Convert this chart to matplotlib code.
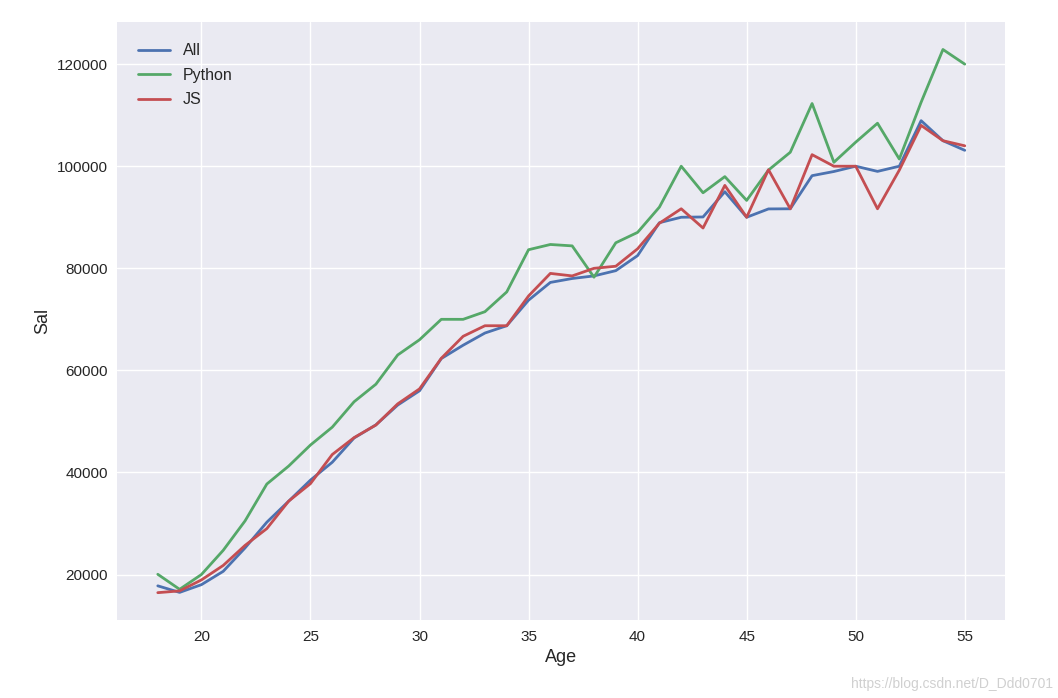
import matplotlib
matplotlib.use("Agg")
import matplotlib.pyplot as plt

plt.style.use("seaborn-v0_8")

ages_x = list(range(18, 56))
all_devs = [17784, 16500, 18012, 20628, 25206, 30252, 34368, 38496, 42000, 46752,
            49320, 53200, 56000, 62316, 64928, 67317, 68748, 73752, 77232, 78000,
            78508, 79536, 82488, 88935, 90000, 90056, 95000, 90000, 91633, 91660,
            98150, 98964, 100000, 98988, 100000, 108923, 105000, 103117]
py_devs = [20046, 17100, 20000, 24744, 30500, 37732, 41247, 45372, 48876, 53850,
           57287, 63016, 65998, 70003, 70000, 71496, 75370, 83640, 84666, 84392,
           78254, 85000, 87038, 91991, 100000, 94796, 97962, 93302, 99240, 102736,
           112285, 100771, 104708, 108423, 101407, 112542, 122870, 120000]
js_devs = [16446, 16791, 18942, 21780, 25704, 29000, 34372, 37810, 43515, 46823,
           49293, 53437, 56373, 62375, 66674, 68745, 68746, 74583, 79000, 78508,
           79996, 80403, 83820, 88833, 91660, 87892, 96243, 90000, 99313, 91660,
           102264, 100000, 100000, 91660, 99240, 108000, 105000, 104000]

fig = plt.figure(figsize=(10.58, 6.98), dpi=100)
ax = fig.add_axes([0.111, 0.112, 0.839, 0.856])

ax.plot(ages_x, all_devs, label="All", lw=2)
ax.plot(ages_x, py_devs, label="Python", lw=2)
ax.plot(ages_x, js_devs, label="JS", lw=2)

ax.set_xlabel("Age", fontsize=13)
ax.set_ylabel("Sal", fontsize=13)
ax.tick_params(labelsize=11)
ax.legend(fontsize=11.5, loc="upper left", borderaxespad=0.9, labelspacing=0.6)

fig.text(0.995, 0.01, "https://blog.csdn.net/D_Ddd0701", ha="right", va="bottom",
         fontsize=10, color="#d0d0d0")

fig.savefig("out.png", dpi=100)
